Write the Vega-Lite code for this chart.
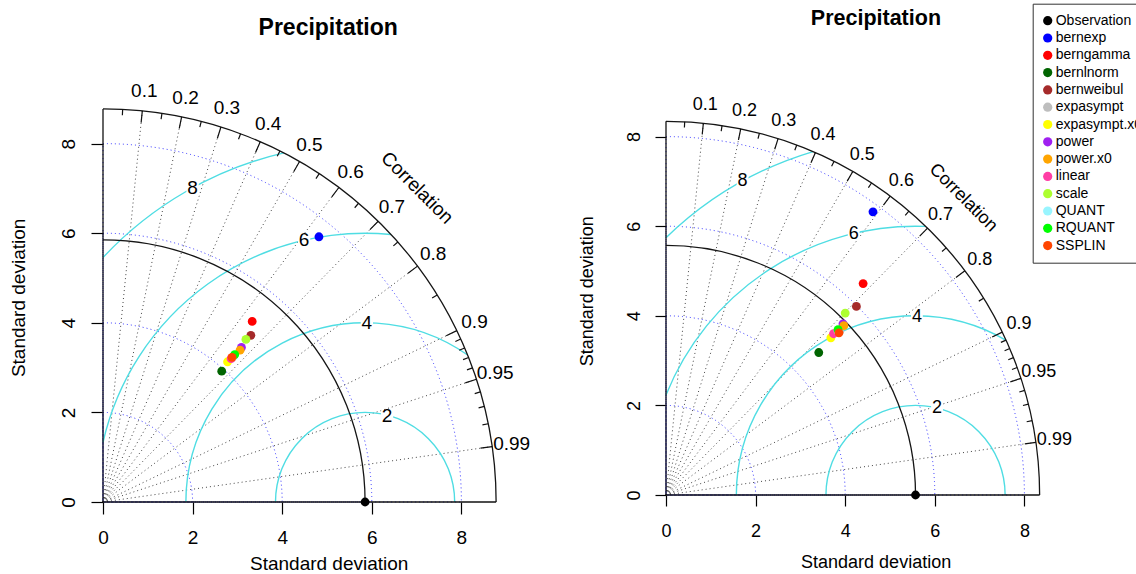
{
  "$schema": "https://vega.github.io/schema/vega-lite/v6.json",
  "padding": {"left": 9, "top": 3, "right": 0, "bottom": 0},
  "bounds": "flush",
  "spacing": 170,
  "config": {
    "font": "Liberation Sans",
    "view": {"stroke": null},
    "axis": {"labelFont": "Liberation Sans", "titleFont": "Liberation Sans", "grid": false, "domain": false},
    "text": {"font": "Liberation Sans", "color": "black"}
  },
  "datasets": {
    "axesL": [{"k":"x","x":0,"y":0},{"k":"x","x":8.775,"y":0},{"k":"y","x":0,"y":0},{"k":"y","x":0,"y":8.775}],
    "axesR": [{"k":"x","x":0,"y":0},{"k":"x","x":8.34,"y":0},{"k":"y","x":0,"y":0},{"k":"y","x":0,"y":8.34}],
    "sdL": [{"r":2,"kind":"grid","t0":0,"t1":90},{"r":4,"kind":"grid","t0":0,"t1":90},{"r":6,"kind":"grid","t0":0,"t1":90},{"r":8,"kind":"grid","t0":0,"t1":90},{"r":5.85,"kind":"ref","t0":0,"t1":90},{"r":8.775,"kind":"outer","t0":0,"t1":90}],
    "sdR": [{"r":2,"kind":"grid","t0":0,"t1":90},{"r":4,"kind":"grid","t0":0,"t1":90},{"r":6,"kind":"grid","t0":0,"t1":90},{"r":8,"kind":"grid","t0":0,"t1":90},{"r":5.57,"kind":"ref","t0":0,"t1":90},{"r":8.34,"kind":"outer","t0":0,"t1":90}],
    "rmsL": [{"cx":5.85,"r":2,"t0":-90,"t1":90,"lx":6.34,"ly":1.91,"label":"2"},{"cx":5.85,"r":4,"t0":-90,"t1":34.91,"lx":5.89,"ly":4.0,"label":"4"},{"cx":5.85,"r":6,"t0":-77.16,"t1":5.54,"lx":4.49,"ly":5.84,"label":"6"},{"cx":5.85,"r":8,"t0":-46.99,"t1":-13.10,"lx":2.0,"ly":7.0,"label":"8"}],
    "rmsR": [{"cx":5.57,"r":2,"t0":-90,"t1":90,"lx":6.05,"ly":1.94,"label":"2"},{"cx":5.57,"r":4,"t0":-90,"t1":30.37,"lx":5.60,"ly":3.97,"label":"4"},{"cx":5.57,"r":6,"t0":-68.18,"t1":2.17,"lx":4.19,"ly":5.82,"label":"6"},{"cx":5.57,"r":8,"t0":-44.13,"t1":-16.61,"lx":1.71,"ly":7.0,"label":"8"}],
    "ticksL": [
      {"theta":2.866,"ri":8.643,"ro":8.775},{"theta":5.739,"ri":8.512,"ro":8.775},{"theta":8.627,"ri":8.643,"ro":8.775},{"theta":11.537,"ri":8.512,"ro":8.775},
      {"theta":14.478,"ri":8.643,"ro":8.775},{"theta":17.458,"ri":8.512,"ro":8.775},{"theta":20.487,"ri":8.643,"ro":8.775},{"theta":23.578,"ri":8.512,"ro":8.775},
      {"theta":26.744,"ri":8.643,"ro":8.775},{"theta":30.0,"ri":8.512,"ro":8.775},{"theta":33.367,"ri":8.643,"ro":8.775},{"theta":36.870,"ri":8.512,"ro":8.775},
      {"theta":40.542,"ri":8.643,"ro":8.775},{"theta":44.427,"ri":8.512,"ro":8.775},{"theta":48.590,"ri":8.643,"ro":8.775},{"theta":53.130,"ri":8.512,"ro":8.775},
      {"theta":58.212,"ri":8.643,"ro":8.775},{"theta":64.158,"ri":8.512,"ro":8.775},{"theta":65.505,"ri":8.643,"ro":8.775},{"theta":66.926,"ri":8.643,"ro":8.775},
      {"theta":68.434,"ri":8.643,"ro":8.775},{"theta":70.052,"ri":8.643,"ro":8.775},{"theta":71.805,"ri":8.512,"ro":8.775},{"theta":73.740,"ri":8.643,"ro":8.775},
      {"theta":75.930,"ri":8.643,"ro":8.775},{"theta":78.522,"ri":8.643,"ro":8.775},{"theta":81.890,"ri":8.512,"ro":8.775}
    ],
    "ticksR": [
      {"theta":2.866,"ri":8.215,"ro":8.34},{"theta":5.739,"ri":8.09,"ro":8.34},{"theta":8.627,"ri":8.215,"ro":8.34},{"theta":11.537,"ri":8.09,"ro":8.34},
      {"theta":14.478,"ri":8.215,"ro":8.34},{"theta":17.458,"ri":8.09,"ro":8.34},{"theta":20.487,"ri":8.215,"ro":8.34},{"theta":23.578,"ri":8.09,"ro":8.34},
      {"theta":26.744,"ri":8.215,"ro":8.34},{"theta":30.0,"ri":8.09,"ro":8.34},{"theta":33.367,"ri":8.215,"ro":8.34},{"theta":36.870,"ri":8.09,"ro":8.34},
      {"theta":40.542,"ri":8.215,"ro":8.34},{"theta":44.427,"ri":8.09,"ro":8.34},{"theta":48.590,"ri":8.215,"ro":8.34},{"theta":53.130,"ri":8.09,"ro":8.34},
      {"theta":58.212,"ri":8.215,"ro":8.34},{"theta":64.158,"ri":8.09,"ro":8.34},{"theta":65.505,"ri":8.215,"ro":8.34},{"theta":66.926,"ri":8.215,"ro":8.34},
      {"theta":68.434,"ri":8.215,"ro":8.34},{"theta":70.052,"ri":8.215,"ro":8.34},{"theta":71.805,"ri":8.09,"ro":8.34},{"theta":73.740,"ri":8.215,"ro":8.34},
      {"theta":75.930,"ri":8.215,"ro":8.34},{"theta":78.522,"ri":8.215,"ro":8.34},{"theta":81.890,"ri":8.09,"ro":8.34}
    ],
    "labelsL": [
      {"theta":5.739,"rl":9.214,"label":"0.1"},{"theta":11.537,"rl":9.214,"label":"0.2"},{"theta":17.458,"rl":9.214,"label":"0.3"},
      {"theta":23.578,"rl":9.214,"label":"0.4"},{"theta":30.0,"rl":9.214,"label":"0.5"},{"theta":36.870,"rl":9.214,"label":"0.6"},
      {"theta":44.427,"rl":9.214,"label":"0.7"},{"theta":53.130,"rl":9.214,"label":"0.8"},{"theta":64.158,"rl":9.214,"label":"0.9"},
      {"theta":71.805,"rl":9.214,"label":"0.95"},{"theta":81.890,"rl":9.214,"label":"0.99"}
    ],
    "labelsR": [
      {"theta":5.739,"rl":8.757,"label":"0.1"},{"theta":11.537,"rl":8.757,"label":"0.2"},{"theta":17.458,"rl":8.757,"label":"0.3"},
      {"theta":23.578,"rl":8.757,"label":"0.4"},{"theta":30.0,"rl":8.757,"label":"0.5"},{"theta":36.870,"rl":8.757,"label":"0.6"},
      {"theta":44.427,"rl":8.757,"label":"0.7"},{"theta":53.130,"rl":8.757,"label":"0.8"},{"theta":64.158,"rl":8.757,"label":"0.9"},
      {"theta":71.805,"rl":8.757,"label":"0.95"},{"theta":81.890,"rl":8.757,"label":"0.99"}
    ],
    "corrTitleL": [{"theta":45,"rl":9.916,"label":"Correlation"}],
    "corrTitleR": [{"theta":45,"rl":9.38,"label":"Correlation"}],
    "corrLinesL": [
      {"c":0.1,"x":0,"y":0},{"c":0.1,"x":0.8775,"y":8.731},
      {"c":0.2,"x":0,"y":0},{"c":0.2,"x":1.755,"y":8.598},
      {"c":0.3,"x":0,"y":0},{"c":0.3,"x":2.6325,"y":8.371},
      {"c":0.4,"x":0,"y":0},{"c":0.4,"x":3.51,"y":8.042},
      {"c":0.5,"x":0,"y":0},{"c":0.5,"x":4.3875,"y":7.599},
      {"c":0.6,"x":0,"y":0},{"c":0.6,"x":5.265,"y":7.02},
      {"c":0.7,"x":0,"y":0},{"c":0.7,"x":6.1425,"y":6.267},
      {"c":0.8,"x":0,"y":0},{"c":0.8,"x":7.02,"y":5.265},
      {"c":0.9,"x":0,"y":0},{"c":0.9,"x":7.8975,"y":3.825},
      {"c":0.95,"x":0,"y":0},{"c":0.95,"x":8.336,"y":2.740},
      {"c":0.99,"x":0,"y":0},{"c":0.99,"x":8.687,"y":1.238}
    ],
    "corrLinesR": [
      {"c":0.1,"x":0,"y":0},{"c":0.1,"x":0.834,"y":8.298},
      {"c":0.2,"x":0,"y":0},{"c":0.2,"x":1.668,"y":8.172},
      {"c":0.3,"x":0,"y":0},{"c":0.3,"x":2.502,"y":7.956},
      {"c":0.4,"x":0,"y":0},{"c":0.4,"x":3.336,"y":7.644},
      {"c":0.5,"x":0,"y":0},{"c":0.5,"x":4.17,"y":7.223},
      {"c":0.6,"x":0,"y":0},{"c":0.6,"x":5.004,"y":6.672},
      {"c":0.7,"x":0,"y":0},{"c":0.7,"x":5.838,"y":5.956},
      {"c":0.8,"x":0,"y":0},{"c":0.8,"x":6.672,"y":5.004},
      {"c":0.9,"x":0,"y":0},{"c":0.9,"x":7.506,"y":3.635},
      {"c":0.95,"x":0,"y":0},{"c":0.95,"x":7.923,"y":2.604},
      {"c":0.99,"x":0,"y":0},{"c":0.99,"x":8.257,"y":1.177}
    ],
    "pointsL": [
      {"model":"Observation","x":5.85,"y":0},
      {"model":"bernexp","x":4.82,"y":5.92},
      {"model":"berngamma","x":3.33,"y":4.03},
      {"model":"bernlnorm","x":2.65,"y":2.92},
      {"model":"bernweibul","x":3.30,"y":3.72},
      {"model":"expasympt","x":2.88,"y":3.22},
      {"model":"expasympt.x0","x":2.78,"y":3.13},
      {"model":"power","x":3.09,"y":3.45},
      {"model":"power.x0","x":3.06,"y":3.39},
      {"model":"linear","x":2.86,"y":3.20},
      {"model":"scale","x":3.19,"y":3.63},
      {"model":"QUANT","x":2.92,"y":3.26},
      {"model":"RQUANT","x":2.94,"y":3.29},
      {"model":"SSPLIN","x":2.88,"y":3.23}
    ],
    "pointsR": [
      {"model":"Observation","x":5.57,"y":0},
      {"model":"bernexp","x":4.62,"y":6.32},
      {"model":"berngamma","x":4.40,"y":4.72},
      {"model":"bernlnorm","x":3.41,"y":3.18},
      {"model":"bernweibul","x":4.25,"y":4.21},
      {"model":"expasympt","x":3.88,"y":3.66},
      {"model":"expasympt.x0","x":3.68,"y":3.51},
      {"model":"power","x":3.95,"y":3.82},
      {"model":"power.x0","x":3.97,"y":3.78},
      {"model":"linear","x":3.74,"y":3.60},
      {"model":"scale","x":4.00,"y":4.06},
      {"model":"QUANT","x":3.84,"y":3.66},
      {"model":"RQUANT","x":3.84,"y":3.69},
      {"model":"SSPLIN","x":3.86,"y":3.62}
    ]
  },
  "hconcat": [
    {
      "width": 393, "height": 393,
      "title": {"text": "Precipitation", "fontSize": 23, "fontWeight": "bold", "font": "Liberation Sans", "color": "black", "anchor": "middle", "dx": 28.7, "offset": 42.5},
      "layer": [
        {"data": {"name": "sdL"}, "transform": [{"filter": "datum.kind === 'grid'"}],
         "mark": {"type": "arc", "filled": false, "stroke": "#2f2fff", "strokeWidth": 1, "strokeDash": [1, 3]},
         "encoding": {
           "x": {"datum": 0, "type": "quantitative", "stack": null, "scale": {"domain": [0, 8.7723], "nice": false, "zero": false}},
           "y": {"datum": 0, "type": "quantitative", "scale": {"domain": [0, 8.7723], "nice": false, "zero": false}},
           "theta": {"field": "t0", "type": "quantitative", "stack": null, "scale": {"domain": [0, 360], "range": [0, 6.283185307], "nice": false, "zero": false}},
           "theta2": {"field": "t1"},
           "radius": {"field": "r", "type": "quantitative", "scale": {"type": "linear", "domain": [0, 10], "range": [0, 448], "nice": false, "zero": true}}
         }},
        {"data": {"name": "corrLinesL"},
         "mark": {"type": "line", "stroke": "#444444", "strokeWidth": 1, "strokeDash": [1, 3]},
         "encoding": {
           "x": {"field": "x", "type": "quantitative"},
           "y": {"field": "y", "type": "quantitative"},
           "detail": {"field": "c", "type": "nominal"}
         }},
        {"data": {"name": "rmsL"},
         "mark": {"type": "arc", "filled": false, "stroke": "#4fdde3", "strokeWidth": 1.4},
         "encoding": {
           "x": {"field": "cx", "type": "quantitative", "stack": null},
           "y": {"datum": 0, "type": "quantitative"},
           "theta": {"field": "t0", "type": "quantitative", "stack": null},
           "theta2": {"field": "t1"},
           "radius": {"field": "r", "type": "quantitative"},
           "radius2": {"field": "r"}
         }},
        {"data": {"name": "sdL"}, "transform": [{"filter": "datum.kind !== 'grid'"}],
         "mark": {"type": "arc", "filled": false, "stroke": "#151515", "strokeWidth": 1.3},
         "encoding": {
           "x": {"datum": 0, "type": "quantitative", "stack": null},
           "y": {"datum": 0, "type": "quantitative"},
           "theta": {"field": "t0", "type": "quantitative", "stack": null},
           "theta2": {"field": "t1"},
           "radius": {"field": "r", "type": "quantitative"},
           "radius2": {"field": "r"}
         }},
        {"data": {"name": "axesL"},
         "mark": {"type": "line", "stroke": "#111111", "strokeWidth": 1.3},
         "encoding": {
           "x": {"field": "x", "type": "quantitative"},
           "y": {"field": "y", "type": "quantitative"},
           "detail": {"field": "k", "type": "nominal"}
         }},
        {"data": {"name": "ticksL"},
         "mark": {"type": "arc", "filled": false, "stroke": "#111111", "strokeWidth": 1.2},
         "encoding": {
           "x": {"datum": 0, "type": "quantitative", "stack": null},
           "y": {"datum": 0, "type": "quantitative"},
           "theta": {"field": "theta", "type": "quantitative", "stack": null},
           "theta2": {"field": "theta"},
           "radius": {"field": "ro", "type": "quantitative"},
           "radius2": {"field": "ri"}
         }},
        {"data": {"name": "labelsL"},
         "mark": {"type": "text", "fontSize": 19, "align": "center", "baseline": "middle", "color": "black"},
         "encoding": {
           "x": {"datum": 0, "type": "quantitative"},
           "y": {"datum": 0, "type": "quantitative"},
           "theta": {"field": "theta", "type": "quantitative", "stack": null},
           "radius": {"field": "rl", "type": "quantitative"},
           "text": {"field": "label", "type": "nominal"}
         }},
        {"data": {"name": "corrTitleL"},
         "mark": {"type": "text", "fontSize": 19, "align": "center", "baseline": "middle", "angle": 45, "color": "black"},
         "encoding": {
           "x": {"datum": 0, "type": "quantitative"},
           "y": {"datum": 0, "type": "quantitative"},
           "theta": {"field": "theta", "type": "quantitative", "stack": null},
           "radius": {"field": "rl", "type": "quantitative"},
           "text": {"field": "label", "type": "nominal"}
         }},
        {"data": {"name": "rmsL"},
         "mark": {"type": "point", "shape": "square", "filled": true, "color": "white", "opacity": 1, "size": 150},
         "encoding": {
           "x": {"field": "lx", "type": "quantitative"},
           "y": {"field": "ly", "type": "quantitative"}
         }},
        {"data": {"name": "rmsL"},
         "mark": {"type": "text", "fontSize": 19, "align": "center", "baseline": "middle", "color": "black"},
         "encoding": {
           "x": {"field": "lx", "type": "quantitative"},
           "y": {"field": "ly", "type": "quantitative"},
           "text": {"field": "label", "type": "nominal"}
         }},
        {"data": {"name": "pointsL"},
         "mark": {"type": "circle", "size": 78, "opacity": 1},
         "encoding": {
           "x": {"field": "x", "type": "quantitative",
                 "axis": {"values": [0, 2, 4, 6, 8], "domain": false, "grid": false, "tickSize": 12, "tickColor": "black", "tickWidth": 1.2, "labelFontSize": 19, "labelColor": "black", "labelPadding": 14, "labelFlush": false, "labelOverlap": false, "title": "Standard deviation", "titleFontSize": 19, "titleFontWeight": "normal", "titleColor": "black", "titlePadding": 7, "titleX": 225.7}},
           "y": {"field": "y", "type": "quantitative",
                 "axis": {"values": [0, 2, 4, 6, 8], "domain": false, "grid": false, "tickSize": 12, "tickColor": "black", "tickWidth": 1.2, "labelFontSize": 19, "labelColor": "black", "labelAngle": -90, "labelAlign": "center", "labelBaseline": "bottom", "labelPadding": 13, "labelFlush": false, "labelOverlap": false, "title": "Standard deviation", "titleFontSize": 19, "titleFontWeight": "normal", "titleColor": "black", "titlePadding": 30.5, "titleY": 188.4}},
           "color": {"field": "model", "type": "nominal",
                     "scale": {"domain": ["Observation","bernexp","berngamma","bernlnorm","bernweibul","expasympt","expasympt.x0","power","power.x0","linear","scale","QUANT","RQUANT","SSPLIN"],
                               "range": ["#000000","#0000FF","#FF0000","#006400","#A52A2A","#BEBEBE","#FFFF00","#A020F0","#FFA500","#FF3EA5","#ADFF2F","#98F5FF","#00FF00","#FF4500"]},
                     "legend": {"orient": "none", "legendX": 929.7, "legendY": -105.3, "title": null, "symbolType": "circle", "symbolSize": 85, "symbolStrokeWidth": 0, "symbolOpacity": 1, "symbolOffset": -2, "labelFontSize": 14, "labelColor": "black", "rowPadding": 3.3, "padding": 10, "strokeColor": "#333333", "fillColor": "white", "labelOffset": 1, "labelLimit": 200}}
         }}
      ]
    },
    {
      "width": 374, "height": 386,
      "title": {"text": "Precipitation", "fontSize": 21.5, "fontWeight": "bold", "font": "Liberation Sans", "color": "black", "anchor": "middle", "dx": 22.9, "offset": 66.5},
      "layer": [
        {"data": {"name": "sdR"}, "transform": [{"filter": "datum.kind === 'grid'"}],
         "mark": {"type": "arc", "filled": false, "stroke": "#2f2fff", "strokeWidth": 1, "strokeDash": [1, 3]},
         "encoding": {
           "x": {"datum": 0, "type": "quantitative", "stack": null, "scale": {"domain": [0, 8.3482], "nice": false, "zero": false}},
           "y": {"datum": 0, "type": "quantitative", "scale": {"domain": [0, 8.6161], "nice": false, "zero": false}},
           "theta": {"field": "t0", "type": "quantitative", "stack": null, "scale": {"domain": [0, 360], "range": [0, 6.283185307], "nice": false, "zero": false}},
           "theta2": {"field": "t1"},
           "radius": {"field": "r", "type": "quantitative", "scale": {"type": "linear", "domain": [0, 10], "range": [0, 448], "nice": false, "zero": true}}
         }},
        {"data": {"name": "corrLinesR"},
         "mark": {"type": "line", "stroke": "#444444", "strokeWidth": 1, "strokeDash": [1, 3]},
         "encoding": {
           "x": {"field": "x", "type": "quantitative"},
           "y": {"field": "y", "type": "quantitative"},
           "detail": {"field": "c", "type": "nominal"}
         }},
        {"data": {"name": "rmsR"},
         "mark": {"type": "arc", "filled": false, "stroke": "#4fdde3", "strokeWidth": 1.4},
         "encoding": {
           "x": {"field": "cx", "type": "quantitative", "stack": null},
           "y": {"datum": 0, "type": "quantitative"},
           "theta": {"field": "t0", "type": "quantitative", "stack": null},
           "theta2": {"field": "t1"},
           "radius": {"field": "r", "type": "quantitative"},
           "radius2": {"field": "r"}
         }},
        {"data": {"name": "sdR"}, "transform": [{"filter": "datum.kind !== 'grid'"}],
         "mark": {"type": "arc", "filled": false, "stroke": "#151515", "strokeWidth": 1.3},
         "encoding": {
           "x": {"datum": 0, "type": "quantitative", "stack": null},
           "y": {"datum": 0, "type": "quantitative"},
           "theta": {"field": "t0", "type": "quantitative", "stack": null},
           "theta2": {"field": "t1"},
           "radius": {"field": "r", "type": "quantitative"},
           "radius2": {"field": "r"}
         }},
        {"data": {"name": "axesR"},
         "mark": {"type": "line", "stroke": "#111111", "strokeWidth": 1.3},
         "encoding": {
           "x": {"field": "x", "type": "quantitative"},
           "y": {"field": "y", "type": "quantitative"},
           "detail": {"field": "k", "type": "nominal"}
         }},
        {"data": {"name": "ticksR"},
         "mark": {"type": "arc", "filled": false, "stroke": "#111111", "strokeWidth": 1.2},
         "encoding": {
           "x": {"datum": 0, "type": "quantitative", "stack": null},
           "y": {"datum": 0, "type": "quantitative"},
           "theta": {"field": "theta", "type": "quantitative", "stack": null},
           "theta2": {"field": "theta"},
           "radius": {"field": "ro", "type": "quantitative"},
           "radius2": {"field": "ri"}
         }},
        {"data": {"name": "labelsR"},
         "mark": {"type": "text", "fontSize": 18, "align": "center", "baseline": "middle", "color": "black"},
         "encoding": {
           "x": {"datum": 0, "type": "quantitative"},
           "y": {"datum": 0, "type": "quantitative"},
           "theta": {"field": "theta", "type": "quantitative", "stack": null},
           "radius": {"field": "rl", "type": "quantitative"},
           "text": {"field": "label", "type": "nominal"}
         }},
        {"data": {"name": "corrTitleR"},
         "mark": {"type": "text", "fontSize": 18, "align": "center", "baseline": "middle", "angle": 45, "color": "black"},
         "encoding": {
           "x": {"datum": 0, "type": "quantitative"},
           "y": {"datum": 0, "type": "quantitative"},
           "theta": {"field": "theta", "type": "quantitative", "stack": null},
           "radius": {"field": "rl", "type": "quantitative"},
           "text": {"field": "label", "type": "nominal"}
         }},
        {"data": {"name": "rmsR"},
         "mark": {"type": "point", "shape": "square", "filled": true, "color": "white", "opacity": 1, "size": 140},
         "encoding": {
           "x": {"field": "lx", "type": "quantitative"},
           "y": {"field": "ly", "type": "quantitative"}
         }},
        {"data": {"name": "rmsR"},
         "mark": {"type": "text", "fontSize": 18, "align": "center", "baseline": "middle", "color": "black"},
         "encoding": {
           "x": {"field": "lx", "type": "quantitative"},
           "y": {"field": "ly", "type": "quantitative"},
           "text": {"field": "label", "type": "nominal"}
         }},
        {"data": {"name": "pointsR"},
         "mark": {"type": "circle", "size": 78, "opacity": 1},
         "encoding": {
           "x": {"field": "x", "type": "quantitative",
                 "axis": {"values": [0, 2, 4, 6, 8], "domain": false, "grid": false, "tickSize": 11, "tickColor": "black", "tickWidth": 1.2, "labelFontSize": 18, "labelColor": "black", "labelPadding": 16, "labelFlush": false, "labelOverlap": false, "title": "Standard deviation", "titleFontSize": 18, "titleFontWeight": "normal", "titleColor": "black", "titlePadding": 13, "titleX": 209.6}},
           "y": {"field": "y", "type": "quantitative",
                 "axis": {"values": [0, 2, 4, 6, 8], "domain": false, "grid": false, "tickSize": 11, "tickColor": "black", "tickWidth": 1.2, "labelFontSize": 18, "labelColor": "black", "labelAngle": -90, "labelAlign": "center", "labelBaseline": "bottom", "labelPadding": 12, "labelFlush": false, "labelOverlap": false, "title": "Standard deviation", "titleFontSize": 18, "titleFontWeight": "normal", "titleColor": "black", "titlePadding": 29, "titleY": 181.7}},
           "color": {"field": "model", "type": "nominal",
                     "legend": {"orient": "none", "legendX": 929.7, "legendY": -105.3, "title": null, "symbolType": "circle", "symbolSize": 85, "symbolStrokeWidth": 0, "symbolOpacity": 1, "symbolOffset": -2, "labelFontSize": 14, "labelColor": "black", "rowPadding": 3.3, "padding": 10, "strokeColor": "#333333", "fillColor": "white", "labelOffset": 1, "labelLimit": 200}}
         }}
      ]
    }
  ]
}
